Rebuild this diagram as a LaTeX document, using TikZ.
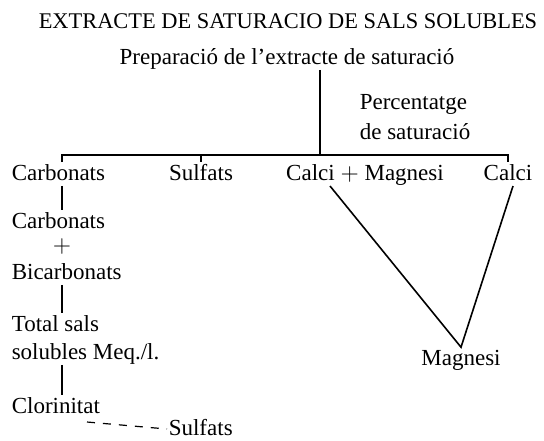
\documentclass[tikz,border=0pt]{standalone}
\usepackage{fontspec}
\setmainfont{Liberation Serif}
\usetikzlibrary{positioning,calc}

\begin{document}
\begin{tikzpicture}[x=0.5pt,y=-0.5pt,line width=0.8pt]
  \tikzstyle{every node}=[font=\fontsize{11.5}{13}\selectfont, inner sep=0.5pt,
                          text height=8pt, text depth=2pt]
  \tikzstyle{lft}=[anchor=west]
  \useasboundingbox (0,0) rectangle (544,440);

  \node[font=\fontsize{11.2}{13}\selectfont] (title) at (288,22)
       {EXTRACTE DE SATURACIO DE SALS SOLUBLES};
  \node (prep)  at (287,58) {Preparació de l'extracte de saturació};
  \node[lft] (perc)  at (358,103) {Percentatge};
  \node[lft] (desat) at (358,133) {de saturació};

  \node[lft] (carb1)  at (10,174)  {Carbonats};
  \node      (sulf1)  at (201,174) {Sulfats};
  \node      (cm)     at (365,174) {Calci $+$ Magnesi};
  \node      (calci)  at (508,174) {Calci};

  \node[lft] (carb2)  at (10,222)  {Carbonats};
  \node      (plus)   at (62,246)  {$+$};
  \node[lft] (bicarb) at (10,273)  {Bicarbonats};
  \node[lft] (total)  at (10,325)  {Total sals};
  \node[lft] (solub)  at (10,353)  {solubles Meq./l.};
  \node[lft] (clor)   at (10,407)  {Clorinitat};
  \node[lft] (sulf2)  at (167,429) {Sulfats};
  \node      (magn)   at (461,359) {Magnesi};

  \coordinate (j)    at (320,155);
  \coordinate (cx)   at (62,0);
  \coordinate (cm-c) at (330,186);
  \coordinate (ca-c) at (513,186);
  \coordinate (cl-d) at (87,422);

  % bracket
  \draw (j |- prep.south) -- (j);
  \draw (carb1.north -| cx) -- (cx |- j) -- (calci.north |- j) -- (calci.north);
  \draw (sulf1.north |- j) -- (sulf1.north);

  % left column
  \draw (carb1.south -| cx) -- (carb2.north -| cx);
  \draw (bicarb.south -| cx) -- (total.north -| cx);
  \draw (solub.south -| cx) -- (clor.north -| cx);
  \draw[dashed, dash pattern=on 4pt off 4pt, line width=0.6pt] (cl-d) -- (sulf2.west);

  % right side
  \draw (cm-c) -- (magn.north) -- (ca-c);

\end{tikzpicture}
\end{document}
